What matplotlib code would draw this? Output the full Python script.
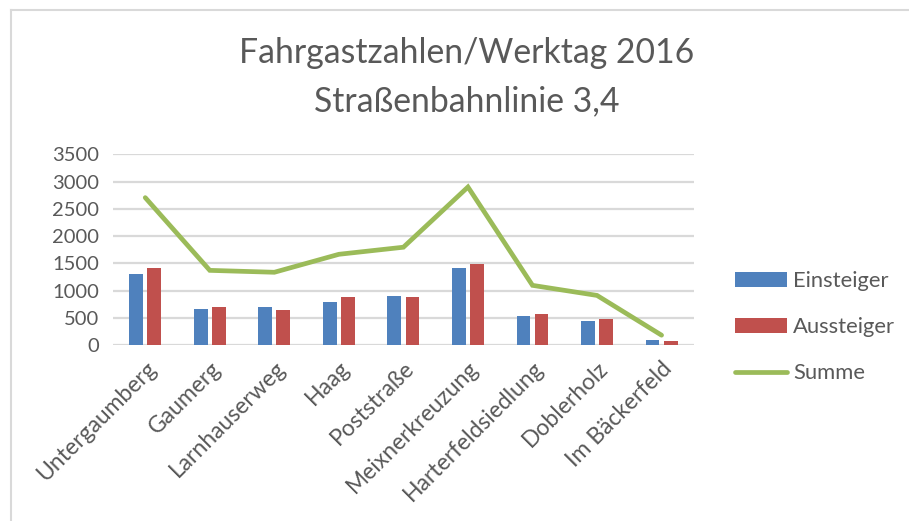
import numpy as np
import matplotlib.pyplot as plt
from matplotlib.patches import Patch
from matplotlib.lines import Line2D

haltestellen = ["Untergaumberg", "Gaumerg", "Larnhauserweg", "Haag", "Poststraße",
                "Meixnerkreuzung", "Harterfeldsiedlung", "Doblerholz", "Im Bäckerfeld"]
einsteiger = [1300, 670, 690, 785, 905, 1415, 525, 440, 90]
aussteiger = [1405, 700, 645, 880, 890, 1485, 570, 470, 75]
summe = [2705, 1370, 1335, 1665, 1795, 2900, 1095, 910, 180]
y_ticks = [0, 500, 1000, 1500, 2000, 2500, 3000, 3500]

BLAU = "#4F81BD"
ROT = "#C0504D"
GRUEN = "#9BBB59"
TEXT = "#595959"
GITTER = "#D9D9D9"

plt.rcParams["font.family"] = ["Lato", "DejaVu Sans"]

fig = plt.figure(figsize=(9.09, 5.21), dpi=100)
ax = fig.add_axes([0.1243, 0.3378, 0.639, 0.366])

x = np.arange(len(haltestellen))
breite = 0.215
ax.bar(x - 0.14, einsteiger, width=breite, color=BLAU, zorder=3)
ax.bar(x + 0.14, aussteiger, width=breite, color=ROT, zorder=3)
ax.plot(x, summe, color=GRUEN, linewidth=3.4, solid_capstyle="round",
        solid_joinstyle="miter", zorder=4)

ax.set_xlim(-0.5, len(haltestellen) - 0.5)
ax.set_ylim(0, 3500)
ax.set_yticks(y_ticks)
ax.set_yticklabels([str(v) for v in y_ticks], fontsize=14.5, color=TEXT)
ax.set_xticks(x)
ax.set_xticklabels(haltestellen, rotation=45, ha="right", rotation_mode="anchor",
                   fontsize=16.5, color=TEXT)
ax.tick_params(axis="both", length=0)
ax.tick_params(axis="y", pad=10)
ax.tick_params(axis="x", pad=9)
for s in ax.spines.values():
    s.set_visible(False)
ax.grid(axis="y", color=GITTER, linewidth=1.6, zorder=0)
ax.set_axisbelow(True)

fig.text(0.513, 0.898, "Fahrgastzahlen/Werktag 2016", ha="center", va="center",
         fontsize=24.3, color=TEXT)
fig.text(0.513, 0.806, "Straßenbahnlinie 3,4", ha="center", va="center",
         fontsize=24.3, color=TEXT)

griffe = [Patch(facecolor=BLAU, label="Einsteiger"),
          Patch(facecolor=ROT, label="Aussteiger"),
          Line2D([], [], color=GRUEN, linewidth=3.4, solid_capstyle="round", label="Summe")]
fig.legend(handles=griffe, loc="center left", bbox_to_anchor=(0.787, 0.372),
           frameon=False, fontsize=15.8, labelcolor=TEXT, handlelength=2.37,
           handleheight=0.65, handletextpad=0.27, labelspacing=1.18)

# Rahmen oben und links
fig.add_artist(Line2D([0.012, 1.0], [0.981, 0.981], color="#D9D9D9", linewidth=1.5))
fig.add_artist(Line2D([0.012, 0.012], [0.0, 0.981], color="#D9D9D9", linewidth=1.5))

fig.savefig("out.png", dpi=100)
